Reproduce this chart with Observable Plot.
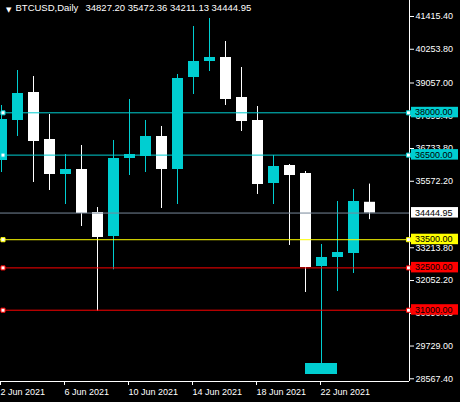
<!DOCTYPE html>
<html>
<head>
<meta charset="utf-8">
<script src="https://cdn.jsdelivr.net/npm/d3@7"></script>
<script src="https://cdn.jsdelivr.net/npm/@observablehq/plot@0.6"></script>
<style>
  html, body { margin: 0; padding: 0; background: #000; }
  #chart { width: 460px; height: 402px; }
</style>
</head>
<body>
<div id="chart"></div>
<script>
// ---- data ----
const symbolName = "BTCUSD,Daily";
const lastOHLC = [34827.20, 35472.36, 34211.13, 34444.95];

const dates = ["2021-06-02","2021-06-03","2021-06-04","2021-06-05","2021-06-06","2021-06-07",
  "2021-06-08","2021-06-09","2021-06-10","2021-06-11","2021-06-12","2021-06-13","2021-06-14",
  "2021-06-15","2021-06-16","2021-06-17","2021-06-18","2021-06-19","2021-06-20","2021-06-21",
  "2021-06-22","2021-06-23","2021-06-24","2021-06-25"];
const opens  = [36308.9, 37727.4, 38720.3, 37053.6, 35812.4, 35989.7, 34464.8, 33613.8, 36379.8, 36450.7, 37160.0, 35989.7,
                39252.2, 39819.6, 39961.5, 38543.0, 37727.4, 35493.2, 36131.6, 35847.9, 32549.9, 32869.1, 33010.9, 34827.20];
const highs  = [38259.3, 39500.4, 39287.7, 37940.1, 36521.6, 36840.8, 34642.1, 37018.1, 38472.1, 37727.4, 37514.6, 39358.6,
                41060.8, 41344.5, 40528.8, 39606.8, 38223.8, 36486.2, 36167.0, 35918.8, 33330.1, 34854.9, 35280.5, 35472.36];
const lows   = [35883.3, 37160.0, 35528.7, 35245.0, 34748.5, 33968.4, 30964.8, 32432.9, 35776.9, 35883.3, 34606.7, 34748.5,
                38649.4, 39464.9, 38259.3, 37337.3, 35103.2, 34748.5, 33294.6, 31627.9, 29110.1, 31663.4, 32301.7, 34211.13];
const closes = [37762.8, 38684.8, 36982.6, 35812.4, 35989.7, 34429.4, 33578.3, 36379.8, 36521.6, 37160.0, 35989.7, 39216.8,
                39819.6, 39961.5, 38472.1, 37691.9, 35457.7, 36096.1, 35776.9, 32514.5, 32869.1, 33046.4, 34854.9, 34444.95];

const levelPrices = [38000, 36500, 33500, 32500, 31000];
const levelKinds  = ["cyan", "cyan", "yellow", "red", "red"];
const bidPrice = 34444.95;

const lowBox = { start: "2021-06-21", end: "2021-06-23", top: 29110, bottom: 28720 };

const yTickValues = [41415.40, 40253.80, 39057.00, 37895.40, 36733.80, 35572.20, 33213.80, 32052.20, 30890.60, 29729.00, 28567.40];
const xTickDates = ["2021-06-02","2021-06-06","2021-06-10","2021-06-14","2021-06-18","2021-06-22"];

// ---- styles ----
const palette = { cyan: "#00CED1", yellow: "#FFFF00", red: "#FF0000" };
const bullColor = "#00CED1", bearColor = "#FFFFFF", bidColor = "#778899";

const parse = s => new Date(s + "T00:00:00Z");
const candles = dates.map((d, i) => ({
  date: parse(d), open: opens[i], high: highs[i], low: lows[i], close: closes[i],
  color: closes[i] >= opens[i] ? bullColor : bearColor
}));
const levels = levelPrices.map((p, i) => ({ price: p, color: palette[levelKinds[i]] }));

const DAY = 864e5;
const d0 = parse(dates[0]).getTime();
const xDomain = [new Date(d0 - DAY / 16), new Date(d0 + 25.5 * DAY)];
const yDomain = [28471.7, 41982.8];

const chart = Plot.plot({
  width: 460, height: 402,
  marginTop: 0, marginRight: 51, marginBottom: 21, marginLeft: 0,
  style: { background: "#000", color: "#fff", fontFamily: "Liberation Sans, Arial, sans-serif", fontSize: "9px" },
  x: { type: "utc", domain: xDomain },
  y: { domain: yDomain },
  color: { type: "identity" },
  marks: [
    // candles
    Plot.ruleX(candles, { x: "date", y1: "low", y2: "high", stroke: "color", strokeWidth: 1 }),
    Plot.ruleX(candles, { x: "date", y1: "open", y2: "close", stroke: "color", strokeWidth: 11 }),
    Plot.rect([lowBox], { x1: d => parse(d.start), x2: d => parse(d.end), y1: "bottom", y2: "top", fill: bullColor }),
    // horizontal lines
    Plot.ruleY([bidPrice], { stroke: bidColor }),
    Plot.ruleY(levels, { y: "price", stroke: "color" }),
    // frame lines
    Plot.ruleY([yDomain[0]], { stroke: "#fff" }),
    Plot.ruleX([xDomain[1]], { stroke: "#fff" }),
    // axes
    Plot.axisY({ anchor: "right", ticks: yTickValues, tickFormat: d => d.toFixed(2), tickSize: 4, tickPadding: 2, color: "#fff" }),
    Plot.axisX({ ticks: xTickDates.map(parse), tickFormat: d3.utcFormat("%-d %b %Y"), tickSize: 4, tickPadding: 3,
                 textAnchor: "start", dx: -1, color: "#fff" }),
    // level markers
    Plot.dot(levels, { y: "price", frameAnchor: "left", dx: 2.5, symbol: "square", r: 2.3, fill: "#fff", stroke: "color", strokeWidth: 1 }),
    Plot.dot(levels, { y: "price", frameAnchor: "right", dx: -1, symbol: "square", r: 2.3, fill: "#fff", stroke: "color", strokeWidth: 1 }),
    // title
    Plot.text(["▼"], { frameAnchor: "top-left", dx: 5.5, dy: 6.5, fontFamily: "DejaVu Sans", fontSize: 7, fill: "#fff" }),
    Plot.text([symbolName], { frameAnchor: "top-left", dx: 15, dy: 4, lineAnchor: "top", textAnchor: "start", fontSize: 9.5, fill: "#fff" }),
    Plot.text([lastOHLC.map(v => v.toFixed(2)).join(" ")], { frameAnchor: "top-left", dx: 85, dy: 4, lineAnchor: "top", textAnchor: "start", fontSize: 9.5, fill: "#fff" })
  ]
});

// price label boxes on the right axis
const ys = chart.scale("y");
const labelX = 460 - 51 + 2;
const g = d3.select(chart).append("g")
  .attr("font-family", "Liberation Sans, Arial, sans-serif")
  .attr("font-size", 9)
  .attr("text-anchor", "start");
const labelData = [{ price: bidPrice, color: "#fff" }, ...levels];
for (const d of labelData) {
  const yy = ys.apply(d.price);
  g.append("rect").attr("x", labelX).attr("y", yy - 5.5).attr("width", 47).attr("height", 10.5).attr("fill", d.color);
  g.append("text").attr("x", labelX + 4).attr("y", yy).attr("dy", "0.33em")
    .attr("text-anchor", "start").attr("fill", "#000").text(d.price.toFixed(2));
}

document.getElementById("chart").appendChild(chart);
</script>
</body>
</html>
